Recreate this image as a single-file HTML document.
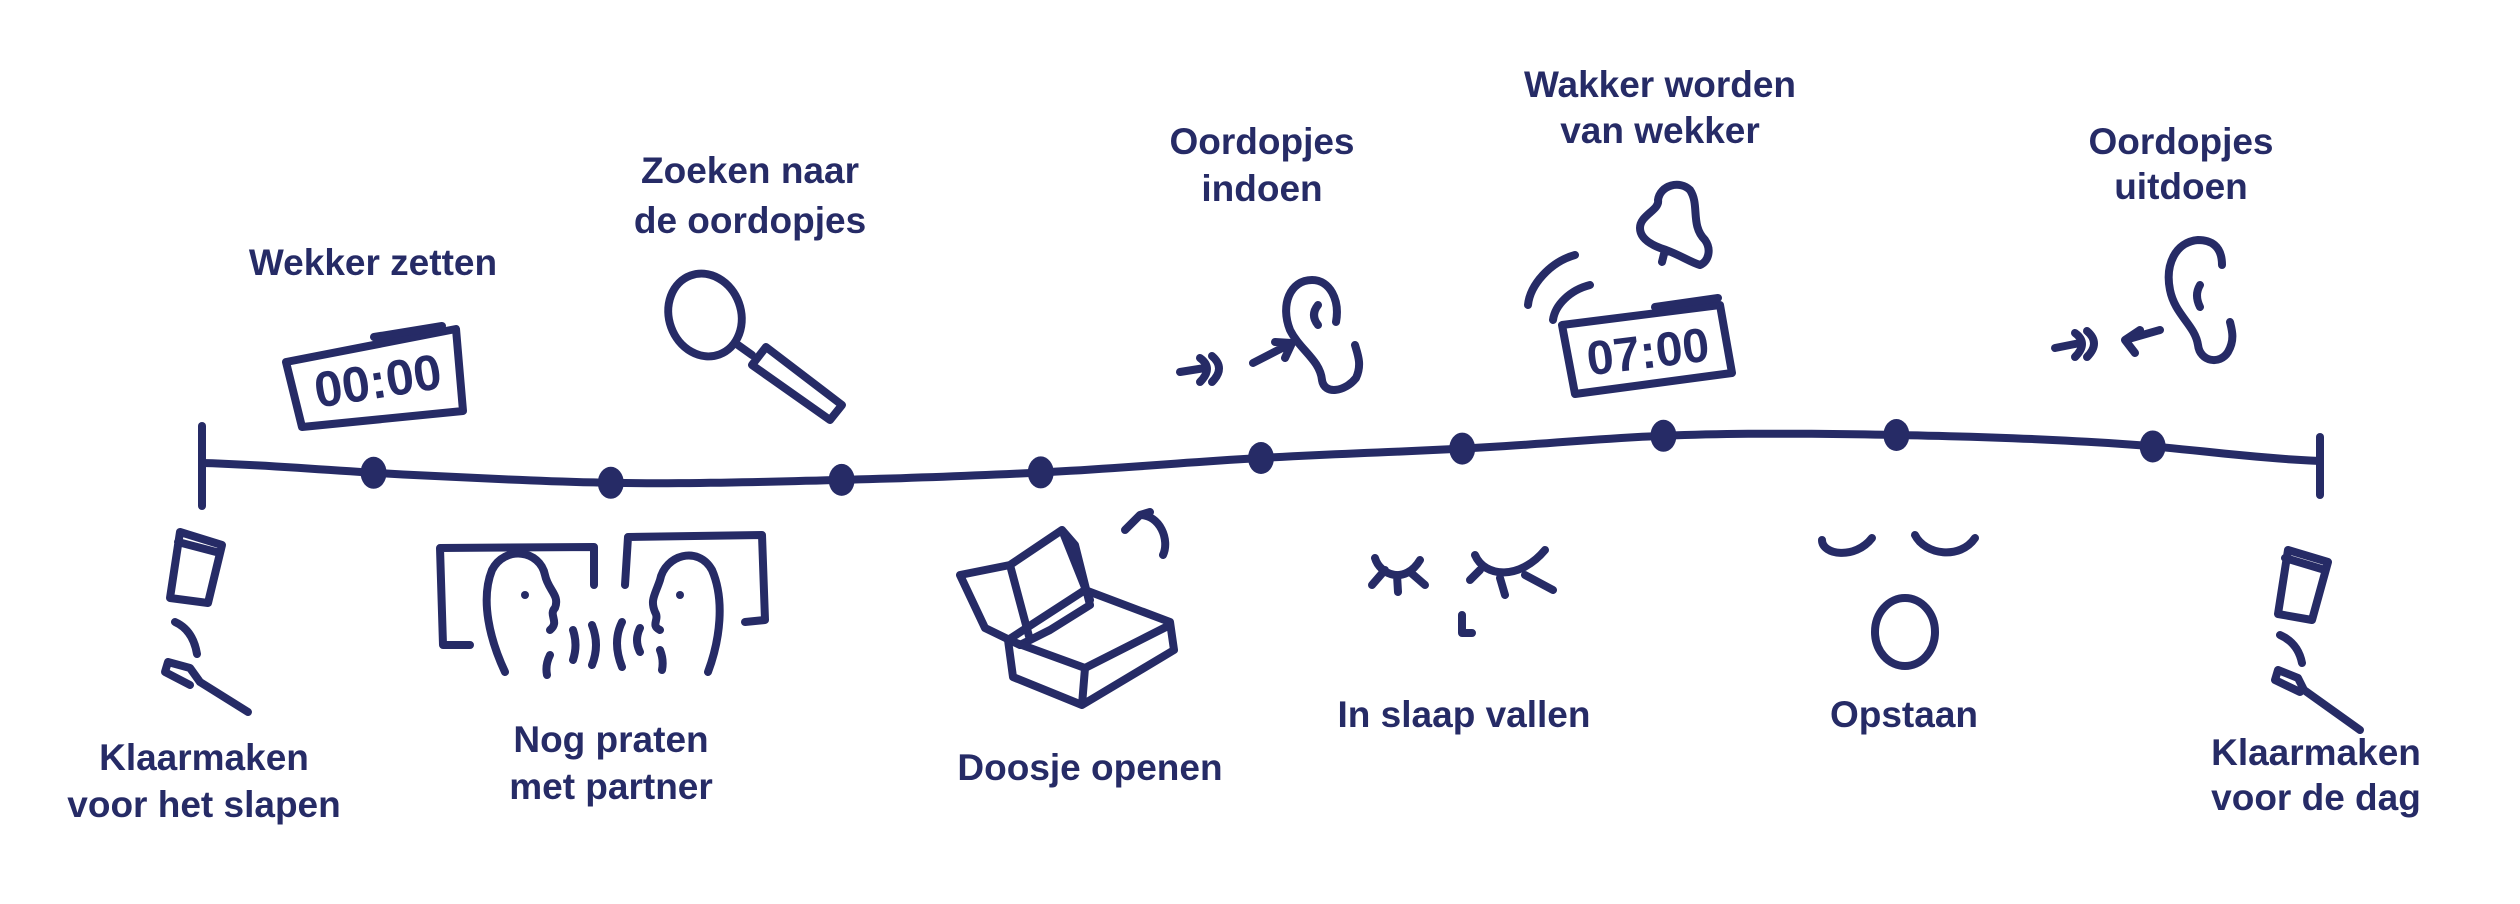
<!DOCTYPE html>
<html><head><meta charset="utf-8"><style>
html,body{margin:0;padding:0;background:#fff;}
svg{display:block;}
text{font-family:"Liberation Sans",sans-serif;font-weight:bold;fill:#262b66;font-size:37px;}
.s{fill:none;stroke:#262b66;stroke-width:8;stroke-linecap:round;stroke-linejoin:round;}
</style></head><body>
<svg id="chart" width="2520" height="904" viewBox="0 0 2520 904">
<g id="icons">
 <g>
  <path class="s" d="M286,362 L456,329 L463,411 L302,427 Z"/>
  <path class="s" d="M374,337 L442,326"/>
  <text x="378" y="398" text-anchor="middle" style="font-size:50px" transform="rotate(-9 378 382)">00:00</text>
 </g>
 <g>
  <ellipse class="s" cx="705" cy="315" rx="36" ry="42" transform="rotate(-20 705 315)"/>
  <path class="s" d="M738,345 L752,355"/>
  <path class="s" d="M766,347 L842,405 L830,420 L752,365 Z"/>
 </g>
 <g>
  <path class="s" d="M1180,372 L1205,368 M1200,358 q14,10 0,24 M1212,356 q14,12 0,26"/>
  <path class="s" d="M1253,363 L1292,343 M1275,342 L1292,343 L1285,358"/>
  <path class="s" d="M1336,322 C1340,300 1330,280 1312,280 C1290,280 1280,305 1290,330 C1300,350 1320,360 1322,380 C1324,395 1345,392 1356,378 C1362,365 1358,355 1355,345 M1318,305 q-8,10 0,20"/>
 </g>
 <g>
  <path class="s" d="M1666,250 C1650,245 1640,238 1640,228 C1640,215 1660,210 1658,200 C1660,185 1680,180 1690,190 C1700,205 1690,225 1705,240 C1712,250 1708,262 1700,265 C1690,262 1680,255 1666,250 M1665,250 l-3,12"/>
  <path class="s" d="M1575,255 C1550,262 1530,285 1528,305 M1590,285 C1570,290 1555,305 1553,320"/>
  <path class="s" d="M1562,325 L1720,305 L1732,373 L1575,394 Z"/>
  <path class="s" d="M1655,307 L1718,298"/>
  <text x="1648" y="368" text-anchor="middle" style="font-size:48px" transform="rotate(-7 1648 352)">07:00</text>
 </g>
 <g>
  <path class="s" d="M2055,348 L2080,343 M2075,333 q14,10 0,24 M2087,331 q14,12 0,26"/>
  <path class="s" d="M2160,330 L2125,340 M2140,330 L2125,340 L2135,353"/>
  <path class="s" d="M2222,265 C2222,245 2210,240 2198,240 C2175,242 2165,265 2170,290 C2175,315 2195,325 2198,345 C2200,362 2220,365 2228,352 C2235,340 2232,330 2230,322 M2200,285 q-6,10 0,22"/>
 </g>
 <g>
  <path class="s" d="M180,532 L222,545 L208,603 L170,598 Z M178,542 L220,553"/>
  <path class="s" d="M175,622 q18,8 22,32"/>
  <path class="s" d="M168,662 L190,668 L200,682 L248,712 M168,662 L165,672 L190,685"/>
 </g>
 <g>
  <path class="s" d="M2288,550 L2328,562 L2312,620 L2278,614 Z M2285,558 L2325,570"/>
  <path class="s" d="M2280,635 q18,8 22,28"/>
  <path class="s" d="M2278,670 L2298,678 L2304,690 L2360,730 M2278,670 L2275,680 L2300,692"/>
 </g>
 <g>
  <path class="s" d="M594,585 L594,547 L440,548 L443,645 L470,645"/>
  <path class="s" d="M625,585 L628,537 L762,535 L765,620 L745,622"/>
  <path class="s" d="M505,672 C490,640 480,600 492,570 C505,545 540,550 545,575 C548,590 560,595 555,608 C548,615 560,622 550,630"/>
  <path class="s" d="M708,672 C720,640 725,600 712,570 C698,545 665,555 660,580 C655,595 650,600 655,612 C660,620 650,625 660,630"/>
  <path class="s" d="M573,630 q5,15 0,30 M592,625 q8,20 0,40 M622,622 q-10,20 0,45 M640,628 q-6,12 0,24 M550,655 q-5,10 -3,20 M660,650 q4,10 2,20"/>
  <circle cx="525" cy="595" r="4" fill="#262b66"/><circle cx="680" cy="595" r="4" fill="#262b66"/>
 </g>
 <g>
  <path class="s" d="M960,575 L1010,565 L1062,530 L1075,545 L1090,605 L1050,630 L1020,645 L985,628 Z M1010,565 L1030,640 M1062,530 L1090,600"/>
  <path class="s" d="M1085,590 L1170,622 L1174,650 L1082,705 L1013,677 L1008,640 Z M1008,640 L1085,668 L1170,625 M1085,668 L1082,705"/>
  <path class="s" d="M1140,515 C1160,515 1170,540 1163,555 M1140,515 l10,-3 M1125,530 l15,-15"/>
 </g>
 <g>
  <path class="s" d="M1375,558 C1380,575 1405,585 1420,560 M1385,570 L1372,585 M1397,575 L1398,592 M1410,572 L1425,585"/>
  <path class="s" d="M1475,555 C1485,578 1520,580 1545,550 M1480,570 L1470,580 M1500,578 L1505,595 M1525,575 L1553,590"/>
  <path class="s" d="M1462,615 L1462,633 L1472,633"/>
 </g>
 <g>
  <path class="s" d="M1822,540 C1822,555 1855,560 1872,538"/>
  <path class="s" d="M1915,535 C1925,555 1960,560 1975,538"/>
  <ellipse class="s" cx="1905" cy="632" rx="30" ry="34"/>
 </g>
</g>
<g id="timeline"></g>
<g id="labels"></g>
</svg>
<script>
const stepLabels = ["Wekker zetten","Nog praten met partner","Zoeken naar de oordopjes","Doosje openen","Oordopjes indoen","In slaap vallen","Wakker worden van wekker","Opstaan","Oordopjes uitdoen"];
const stepTime = [0.81,1.93,3.02,3.96,5.0,5.95,6.9,8.0,9.21];
const curveHeight = [0, -12, -20, -17, -9, 5, 15, 28, 28, 20, 2];
const NS = "http://www.w3.org/2000/svg";
const tl = document.getElementById('timeline');
const x0 = 202, x1 = 2320, yBase = 463;
function xScale(t){ return x0 + (x1 - x0) * t / 10; }
function yAt(t){
  const i = Math.min(9, Math.floor(t)), f = t - i;
  const p0 = curveHeight[Math.max(0,i-1)], p1 = curveHeight[i], p2 = curveHeight[i+1], p3 = curveHeight[Math.min(10,i+2)];
  const h = 0.5*((2*p1)+(-p0+p2)*f+(2*p0-5*p1+4*p2-p3)*f*f+(-p0+3*p1-3*p2+p3)*f*f*f);
  return yBase - h;
}
const line = document.createElementNS(NS,'path');
let d = '';
for(let k=0;k<=200;k++){ const t=10*k/200; d += (k?'L':'M')+xScale(t).toFixed(1)+','+yAt(t).toFixed(1); }
line.setAttribute('d', d);
line.setAttribute('class','s');


tl.appendChild(line);
[[x0,426,506],[x1,437,495]].forEach(function(v,j){
  const t = document.createElementNS(NS,'path');
  t.setAttribute('d','M'+v[0]+','+v[1]+' L'+v[0]+','+v[2]);
  t.setAttribute('class','s');
  
  
  tl.appendChild(t);
});
stepTime.forEach(function(t){
  const c = document.createElementNS(NS,'ellipse');
  c.setAttribute('cx', xScale(t)); c.setAttribute('cy', yAt(t));
  c.setAttribute('rx', 13); c.setAttribute('ry', 16);
  c.setAttribute('fill', '#262b66');
  
  
  tl.appendChild(c);
});
const labelY = [[262],[739,786],[170,220],[767],[141,188],[714],[84,130],[714],[141,186]];
const lines = [["Wekker zetten"],["Nog praten","met partner"],["Zoeken naar","de oordopjes"],["Doosje openen"],["Oordopjes","indoen"],["In slaap vallen"],["Wakker worden","van wekker"],["Opstaan"],["Oordopjes","uitdoen"]];
const labelX = [373,611,750,1090,1262,1464,1660,1904,2181];
const lg = document.getElementById('labels');
function addLabel(x, ys, ls){
  const t = document.createElementNS(NS,'text');
  t.setAttribute('text-anchor','middle');
  
  
  ls.forEach(function(s,k){
    const sp = document.createElementNS(NS,'tspan');
    sp.setAttribute('x', x); sp.setAttribute('y', ys[k]+13);
    sp.textContent = s; t.appendChild(sp);
  });
  lg.appendChild(t);
}
stepLabels.forEach(function(s,i){ addLabel(labelX[i], labelY[i], lines[i]); });
addLabel(204,[757,804],["Klaarmaken","voor het slapen"]);
addLabel(2316,[752,797],["Klaarmaken","voor de dag"]);
</script>
</body></html>
